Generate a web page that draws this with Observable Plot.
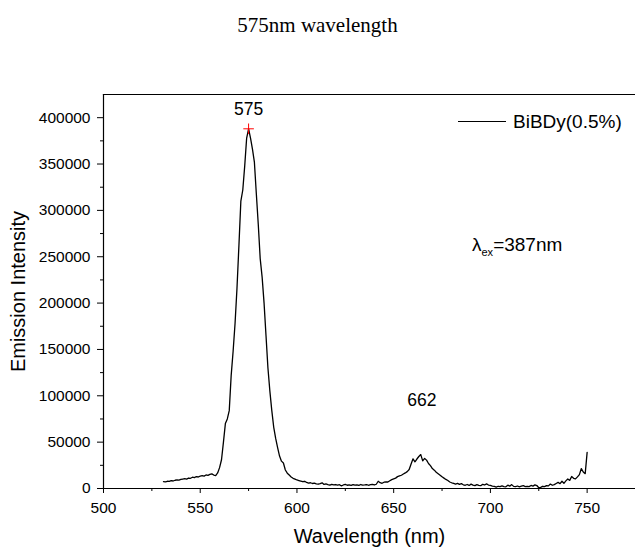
<!DOCTYPE html>
<html>
<head>
<meta charset="utf-8">
<script src="https://cdn.jsdelivr.net/npm/d3@7"></script>
<script src="https://cdn.jsdelivr.net/npm/@observablehq/plot@0.6"></script>
<style>
  html, body { margin: 0; padding: 0; background: #fff; }
  #wrap { position: relative; width: 635px; height: 553px; overflow: hidden; font-family: "Liberation Sans", Arial, sans-serif; }
  #title { position: absolute; left: 0; top: 13px; width: 635px; text-align: center; font: 21px/24px "Liberation Serif", "Times New Roman", serif; color: #000; }
  #chart { position: absolute; left: 0; top: 0; }
  #legend { position: absolute; left: 458px; top: 110px; font-size: 19px; line-height: 24px; color: #000; white-space: nowrap; }
  #legend .sw { display: inline-block; width: 48px; border-top: 1.3px solid #000; vertical-align: middle; margin-right: 7px; position: relative; top: -1px; }
  #lex { position: absolute; left: 472px; top: 233px; font-size: 19px; line-height: 24px; color: #000; white-space: nowrap; }
  #lex sub { font-size: 11px; vertical-align: -5px; }
</style>
</head>
<body>
<div id="wrap">
  <div id="chart"></div>
  <div id="title">575nm wavelength</div>
  <div id="legend"><span class="sw"></span>BiBDy(0.5%)</div>
  <div id="lex">λ<sub>ex</sub>=387nm</div>
</div>
<script>
// Emission spectrum, 1 nm steps from 531 nm to 750 nm
const wavelengths = d3.range(531, 751);
const intensities = [
  7500, 7200, 7800, 7600, 8400, 8100, 8900, 9300, 9000, 9800,          // 531-540
  10200, 10600, 10100, 11300, 11000, 12200, 11800, 12900, 12400, 13300, // 541-550
  13800, 13300, 14600, 14100, 15200, 15800, 14500, 14000, 16800, 22500, // 551-560
  31000, 50000, 70000, 75000, 84000, 122000, 148000, 178000, 216000, 262000, // 561-570
  310000, 322000, 348000, 378000, 388000, 378000, 366000, 352000, 318000, 285000, // 571-580
  248000, 228000, 200000, 165000, 130000, 105000, 84000, 66000, 54000, 44000, // 581-590
  35000, 29500, 27500, 20000, 16500, 14500, 12500, 11000, 10200, 9200,  // 591-600
  8600, 8000, 7300, 7800, 6500, 5800, 6200, 5400, 5900, 5000,           // 601-610
  4600, 5300, 6100, 4400, 4900, 4200, 3600, 4500, 3900, 4300,           // 611-620
  3700, 4100, 2900, 3800, 4400, 3500, 4000, 3300, 4200, 3600,           // 621-630
  4000, 3400, 4300, 3700, 3900, 4200, 3500, 4100, 4400, 3800,           // 631-640
  4600, 7800, 6300, 5600, 6800, 7200, 7000, 8300, 9600, 10400,          // 641-650
  11200, 12800, 13600, 14300, 15600, 16800, 18200, 20500, 26500, 32000, // 651-660
  28800, 31800, 34500, 36600, 29800, 32400, 30600, 27000, 24600, 21500, // 661-670
  19800, 17600, 16000, 14400, 12600, 11200, 9800, 8600, 7000, 6200,     // 671-680
  5600, 4800, 5500, 4400, 5200, 4000, 3500, 4300, 3300, 4700,           // 681-690
  3600, 3100, 4200, 3400, 3000, 4500, 3800, 5000, 3700, 3400,           // 691-700
  2600, 2300, 1500, 2400, 2000, 2900, 2100, 1800, 3600, 2500,           // 701-710
  4200, 2300, 2000, 2700, 1800, 2600, 3200, 2100, 2400, 2000,           // 711-720
  3300, 2600, 3900, 3200, 800, 1200, 2400, 2000, 3100, 2800,            // 721-730
  4800, 3500, 4200, 5400, 6600, 5200, 7800, 5600, 8200, 10200,          // 731-740
  8800, 12900, 11000, 10400, 12500, 15000, 21500, 17800, 16000, 39000   // 741-750
];
const seriesName = "BiBDy(0.5%)";
const peakWavelengths = [575, 662];
const peakValues = [388000, 36600];
const peakLabels = ["575", "662"];
const xTicks = [500, 550, 600, 650, 700, 750];
const xMinorTicks = [525, 575, 625, 675, 725];
const yTicks = [0, 50000, 100000, 150000, 200000, 250000, 300000, 350000, 400000];
const yMinorTicks = [25000, 75000, 125000, 175000, 225000, 275000, 325000, 375000];

const data = wavelengths.map((w, i) => ({w, v: intensities[i]}));
const peaks = peakWavelengths.map((w, i) => ({w, v: peakValues[i], label: peakLabels[i]}));

const chart = Plot.plot({
  width: 635,
  height: 553,
  marginLeft: 103,
  marginRight: 0,
  marginTop: 94,
  marginBottom: 65,
  style: {fontFamily: "'Liberation Sans', Arial, sans-serif", fontSize: "15.5px", color: "#000", background: "transparent"},
  x: {domain: [500, 775]},
  y: {domain: [0, 425000]},
  marks: [
    Plot.frame({anchor: "top", stroke: "#000", strokeWidth: 1.2}),
    Plot.frame({anchor: "left", stroke: "#000", strokeWidth: 1.2}),
    Plot.frame({anchor: "bottom", stroke: "#000", strokeWidth: 1.2}),
    Plot.axisX({ticks: xTicks, tickSize: 5, tickPadding: 8, tickFormat: "d", label: null, stroke: "#000"}),
    Plot.axisX({ticks: xMinorTicks, tickSize: 3, tickFormat: () => "", label: null}),
    Plot.axisY({ticks: yTicks, tickSize: 6, tickPadding: 7, tickFormat: "d", label: null}),
    Plot.axisY({ticks: yMinorTicks, tickSize: 3, tickFormat: () => "", label: null}),
    Plot.text(["Wavelength (nm)"], {frameAnchor: "bottom", dy: 48, fontSize: 20, lineAnchor: "middle"}),
    Plot.text(["Emission Intensity"], {frameAnchor: "left", dx: -85, rotate: -90, fontSize: 20, lineAnchor: "middle", textAnchor: "middle"}),
    Plot.line(data, {x: "w", y: "v", stroke: "#000", strokeWidth: 1.3}),
    Plot.dot(peaks.slice(0, 1), {x: "w", y: "v", symbol: "plus", r: 3.5, stroke: "red", strokeWidth: 1}),
    Plot.text(peaks.slice(0, 1), {x: "w", y: "v", text: "label", dy: -19, fontSize: 17.5, lineAnchor: "middle"}),
    Plot.text(peaks.slice(1, 2), {x: "w", y: "v", text: "label", dx: 5, dy: -54, fontSize: 17.5, lineAnchor: "middle"})
  ]
});
document.getElementById("chart").appendChild(chart);
</script>
</body>
</html>
